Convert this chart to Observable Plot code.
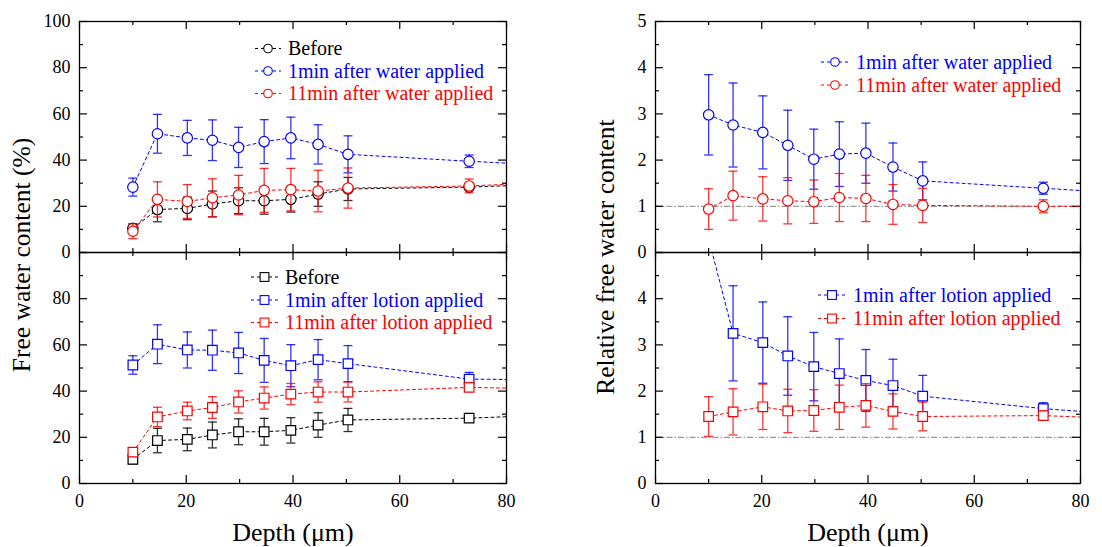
<!DOCTYPE html>
<html>
<head>
<meta charset="utf-8">
<script src="https://cdn.jsdelivr.net/npm/d3@7"></script>
<script src="https://cdn.jsdelivr.net/npm/@observablehq/plot@0.6"></script>
<style>
html, body { margin: 0; padding: 0; background: #fff; }
#root { position: relative; width: 1102px; height: 547px; overflow: hidden; font-family: "Liberation Serif", "Times New Roman", serif; }
#root > svg { position: absolute; left: 0; top: 0; }
</style>
</head>
<body>
<div id="root"></div>
<script>
// ---------- data ----------
// depth (µm); last entry lies beyond the 80 µm axis limit (line continues out of frame)
const depth = [10, 14.6, 20.2, 24.9, 29.8, 34.6, 39.6, 44.7, 50.3, 73, 100];

// Free water content (%) – water
const before     = [10.5, 18.6, 19.1, 21.0, 22.4, 22.4, 23.0, 25.3, 27.5, 28.3, 30.6];
const beforeErr  = [2.0, 5.3, 4.9, 5.6, 5.6, 5.8, 5.5, 5.3, 5.0, 1.0, 1.0];
const water1     = [28.3, 51.4, 49.6, 48.6, 45.5, 48.0, 49.6, 46.8, 42.5, 39.5, 36.4];
const water1Err  = [3.9, 8.4, 7.6, 8.8, 8.7, 9.5, 9.0, 8.5, 8.0, 2.7, 2.7];
const water11    = [9.2, 23.0, 22.1, 23.7, 24.9, 26.9, 27.2, 26.6, 27.9, 28.8, 31.5];
const water11Err = [3.2, 7.6, 7.3, 8.2, 8.5, 9.5, 9.2, 9.0, 8.7, 3.0, 3.0];

// Free water content (%) – lotion
const lotion1     = [51.3, 60.3, 57.8, 57.7, 56.5, 53.3, 51.0, 53.6, 51.9, 45.2, 44.6];
const lotion1Err  = [4.0, 8.4, 7.8, 8.7, 8.9, 9.5, 9.1, 8.7, 7.8, 2.9, 2.9];
const lotion11    = [13.6, 28.8, 31.4, 32.9, 35.3, 37.0, 38.7, 39.6, 39.6, 41.6, 40.4];
const lotion11Err = [1.8, 4.2, 3.8, 4.7, 4.8, 4.8, 4.6, 4.4, 4.3, 1.6, 1.6];

// Relative free water content
const relWater1     = [2.98, 2.76, 2.60, 2.32, 2.02, 2.13, 2.15, 1.85, 1.55, 1.39, 1.20];
const relWater1Err  = [0.87, 0.91, 0.79, 0.76, 0.65, 0.70, 0.65, 0.52, 0.41, 0.13, 0.13];
const relWater11    = [0.94, 1.23, 1.16, 1.12, 1.10, 1.19, 1.17, 1.04, 1.02, 1.00, 1.00];
const relWater11Err = [0.44, 0.53, 0.48, 0.50, 0.47, 0.52, 0.50, 0.43, 0.37, 0.14, 0.14];
const relLotion1     = [5.3, 3.25, 3.05, 2.76, 2.53, 2.38, 2.23, 2.12, 1.89, 1.62, 1.39];
const relLotion1Err  = [null, 1.03, 0.88, 0.85, 0.74, 0.75, 0.67, 0.57, 0.45, 0.13, 0.13];
const relLotion11    = [1.45, 1.55, 1.66, 1.57, 1.58, 1.65, 1.69, 1.56, 1.45, 1.47, 1.35];
const relLotion11Err = [0.43, 0.50, 0.49, 0.47, 0.45, 0.48, 0.47, 0.38, 0.31, 0.10, 0.10];

// tick values
const xMajor = [0, 20, 40, 60, 80];
const xMinor = [10, 30, 50, 70];
const pctMajor = [0, 20, 40, 60, 80, 100];
const pctMinor = [10, 30, 50, 70, 90];
const relMajor = [0, 1, 2, 3, 4, 5];
const relMinor = [0.5, 1.5, 2.5, 3.5, 4.5];

// legend labels
const legWater = ["Before", "1min after water applied", "11min after water applied"];
const legLotion = ["Before", "1min after lotion applied", "11min after lotion applied"];
const legRelWater = ["1min after water applied", "11min after water applied"];
const legRelLotion = ["1min after lotion applied", "11min after lotion applied"];

const BLACK = "#000000", BLUE = "#0000ff", RED = "#ff0000";
const W = 1102, H = 547;

const capSymbol = { draw(ctx) { ctx.moveTo(-4.5, 0); ctx.lineTo(4.5, 0); } };

function seriesMarks(vals, errs, color, symbol) {
  const rows = depth.map((x, i) => ({ x, v: vals[i], e: errs[i] }));
  const withErr = rows.filter(d => d.e != null);
  const r = symbol === "square" ? 5.4 : 5.2;
  return [
    Plot.line(rows, { x: "x", y: "v", stroke: color, strokeWidth: 1, strokeDasharray: "3,3", clip: true }),
    Plot.ruleX(withErr, { x: "x", y1: d => d.v - d.e, y2: d => d.v + d.e, stroke: color, strokeOpacity: 0.8, strokeWidth: 1.3, clip: true }),
    Plot.dot(withErr, { x: "x", y: d => d.v + d.e, symbol: capSymbol, fill: "none", stroke: color, strokeOpacity: 0.8, strokeWidth: 1.3, clip: true }),
    Plot.dot(withErr, { x: "x", y: d => d.v - d.e, symbol: capSymbol, fill: "none", stroke: color, strokeOpacity: 0.8, strokeWidth: 1.3, clip: true }),
    Plot.dot(rows, { x: "x", y: "v", symbol, r, fill: "white", stroke: color, strokeWidth: 1.2, clip: true })
  ];
}

function panel({ frame: [l, t, r, b], yDomain, yMajor, yMinor, yLabels, xLabels, series, ref }) {
  const fw = r - l, fh = b - t;
  const TK = 8, tk = 4;
  const marks = [];
  if (ref != null) marks.push(Plot.ruleY([ref], { stroke: "#808080", strokeWidth: 1, strokeDasharray: "6,2,1.5,2" }));
  marks.push(
    Plot.ruleY(yMajor, { insetRight: fw - TK, stroke: "#000", strokeWidth: 1.2 }),
    Plot.ruleY(yMajor, { insetLeft: fw - TK, stroke: "#000", strokeWidth: 1.2 }),
    Plot.ruleY(yMinor, { insetRight: fw - tk, stroke: "#000", strokeWidth: 1.2 }),
    Plot.ruleY(yMinor, { insetLeft: fw - tk, stroke: "#000", strokeWidth: 1.2 }),
    Plot.ruleX(xMajor, { insetBottom: fh - TK, stroke: "#000", strokeWidth: 1.2 }),
    Plot.ruleX(xMajor, { insetTop: fh - TK, stroke: "#000", strokeWidth: 1.2 }),
    Plot.ruleX(xMinor, { insetBottom: fh - tk, stroke: "#000", strokeWidth: 1.2 }),
    Plot.ruleX(xMinor, { insetTop: fh - tk, stroke: "#000", strokeWidth: 1.2 }),
    Plot.axisY({ ticks: yLabels, tickSize: 0, tickPadding: 9, tickFormat: d => String(d), label: null })
  );
  if (xLabels) marks.push(Plot.axisX({ ticks: xMajor, tickSize: 0, tickPadding: 11, tickFormat: d => String(d), label: null }));
  for (const s of series) marks.push(...seriesMarks(...s));
  marks.push(Plot.frame({ stroke: "#000", strokeWidth: 1.3 }));
  return Plot.plot({
    width: W, height: H,
    marginLeft: l, marginRight: W - r, marginTop: t, marginBottom: H - b,
    x: { domain: [0, 80], axis: xLabels ? undefined : null },
    y: { domain: yDomain },
    style: { fontFamily: "Liberation Serif, Times New Roman, serif", fontSize: "18px", background: "transparent", overflow: "visible", color: "#000" },
    marks
  });
}

const root = document.getElementById("root");

root.append(panel({
  frame: [79, 21, 506, 252], yDomain: [0, 100], yMajor: pctMajor, yMinor: pctMinor,
  yLabels: [0, 20, 40, 60, 80, 100], xLabels: false,
  series: [[before, beforeErr, BLACK, "circle"], [water1, water1Err, BLUE, "circle"], [water11, water11Err, RED, "circle"]]
}));
root.append(panel({
  frame: [79, 252, 506, 483], yDomain: [0, 100], yMajor: pctMajor, yMinor: pctMinor,
  yLabels: [0, 20, 40, 60, 80], xLabels: true,
  series: [[before, beforeErr, BLACK, "square"], [lotion1, lotion1Err, BLUE, "square"], [lotion11, lotion11Err, RED, "square"]]
}));
root.append(panel({
  frame: [655, 21, 1080, 252], yDomain: [0, 5], yMajor: relMajor, yMinor: relMinor,
  yLabels: [0, 1, 2, 3, 4, 5], xLabels: false, ref: 1,
  series: [[relWater1, relWater1Err, BLUE, "circle"], [relWater11, relWater11Err, RED, "circle"]]
}));
root.append(panel({
  frame: [655, 252, 1080, 483], yDomain: [0, 5], yMajor: relMajor, yMinor: relMinor,
  yLabels: [0, 1, 2, 3, 4], xLabels: true, ref: 1,
  series: [[relLotion1, relLotion1Err, BLUE, "square"], [relLotion11, relLotion11Err, RED, "square"]]
}));

// ---------- overlay: axis titles and legends ----------
const ov = d3.select(root).append("svg").attr("width", W).attr("height", H)
  .style("font-family", "Liberation Serif, Times New Roman, serif");

function title(x, y, text, rotate, size) {
  ov.append("text").attr("transform", `translate(${x},${y})` + (rotate ? " rotate(-90)" : ""))
    .attr("text-anchor", "middle").attr("font-size", size).attr("fill", "#000").text(text);
}
title(30, 255, "Free water content (%)", true, 25.5);
title(614, 257, "Relative free water content", true, 25.5);
title(293, 541, "Depth (\u03bcm)", false, 26);
title(868, 541, "Depth (\u03bcm)", false, 26);

function legend(x0, x1, xt, baselines, labels, colors, shape) {
  labels.forEach((lab, i) => {
    const yb = baselines[i], yc = yb - 6.5, c = colors[i], xc = (x0 + x1) / 2;
    ov.append("line").attr("x1", x0).attr("x2", x1).attr("y1", yc).attr("y2", yc)
      .attr("stroke", c).attr("stroke-width", 1).attr("stroke-dasharray", "3,3");
    if (shape === "circle") {
      ov.append("circle").attr("cx", xc).attr("cy", yc).attr("r", 4.3)
        .attr("fill", "white").attr("stroke", c).attr("stroke-width", 1.1);
    } else {
      ov.append("rect").attr("x", xc - 4.4).attr("y", yc - 4.4).attr("width", 8.8).attr("height", 8.8)
        .attr("fill", "white").attr("stroke", c).attr("stroke-width", 1.1);
    }
    ov.append("text").attr("x", xt).attr("y", yb).attr("font-size", 20).attr("fill", c).text(lab);
  });
}
legend(255, 281, 288, [55, 77.5, 100], legWater, [BLACK, BLUE, RED], "circle");
legend(251, 278, 285, [283.5, 306.5, 329], legLotion, [BLACK, BLUE, RED], "square");
legend(821, 849, 856, [68.5, 91.5], legRelWater, [BLUE, RED], "circle");
legend(818, 846, 853, [301.5, 325], legRelLotion, [BLUE, RED], "square");
</script>
</body>
</html>
